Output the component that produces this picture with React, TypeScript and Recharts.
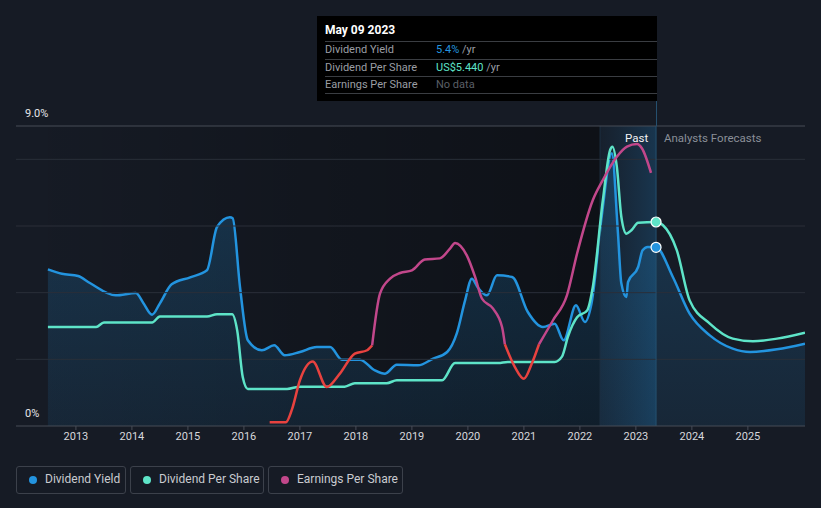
import React from "react"
import {
  ComposedChart,
  Area,
  Line,
  XAxis,
  YAxis,
  ReferenceLine,
  ReferenceArea,
  ReferenceDot,
} from "recharts"

// Dividend Yield (%)
const yieldYears = [
  2012.5, 2012.75, 2013.04, 2013.25, 2013.71, 2014.07, 2014.2, 2014.36, 2014.5, 2014.71,
  2015.04, 2015.34, 2015.52, 2015.75, 2015.8, 2015.93, 2016.07, 2016.32, 2016.54, 2016.73,
  2017.0, 2017.3, 2017.54, 2017.75, 2018.07, 2018.34, 2018.52, 2018.73, 2019.11, 2019.38,
  2019.63, 2019.8, 2019.95, 2020.07, 2020.18, 2020.34, 2020.52, 2020.79, 2021.07, 2021.34,
  2021.55, 2021.71, 2021.93, 2022.09, 2022.21, 2022.39, 2022.57, 2022.68, 2022.74, 2022.83,
  2022.86, 2023.04, 2023.12, 2023.21, 2023.36, 2023.66, 2023.96, 2024.32, 2024.73, 2025.04,
  2025.52, 2026.02,
]
const yieldValues = [
  4.7, 4.57, 4.5, 4.29, 3.92, 3.99, 3.7, 3.34, 3.68, 4.25,
  4.46, 4.67, 5.97, 6.26, 6.23, 4.17, 2.57, 2.27, 2.42, 2.12,
  2.22, 2.37, 2.37, 1.99, 1.99, 1.67, 1.57, 1.84, 1.82, 2.02,
  2.22, 2.77, 3.77, 4.42, 4.15, 3.92, 4.52, 4.47, 3.42, 2.97,
  3.07, 2.57, 3.62, 3.12, 3.7, 6.3, 8.18, 5.78, 4.28, 3.87,
  4.32, 4.77, 5.27, 5.37, 5.36, 4.47, 3.37, 2.72, 2.32, 2.22,
  2.3, 2.47,
]

// Dividend Per Share (US$)
const dpsYears = [
  2012.5, 2013.36, 2013.5, 2014.36, 2014.5, 2015.34, 2015.52, 2015.79, 2015.88, 2015.98,
  2016.07, 2016.77, 2017.0, 2017.8, 2017.98, 2018.55, 2018.73, 2019.54, 2019.77, 2020.54,
  2020.71, 2021.55, 2021.68, 2021.79, 2021.95, 2022.13, 2022.23, 2022.41, 2022.54, 2022.58,
  2022.66, 2022.74, 2022.83, 2022.92, 2023.04, 2023.36, 2023.48, 2023.73, 2023.96, 2024.32,
  2024.73, 2025.09, 2025.52, 2026.02,
]
const dpsValues = [
  2.64, 2.64, 2.76, 2.76, 2.92, 2.92, 2.98, 2.98, 2.55, 1.3,
  0.99, 0.99, 1.05, 1.05, 1.14, 1.14, 1.22, 1.22, 1.68, 1.68,
  1.71, 1.71, 1.85, 2.4, 2.9, 3.08, 3.7, 6.02, 7.36, 7.45,
  6.91, 5.58, 5.13, 5.22, 5.42, 5.44, 5.36, 4.69, 3.35, 2.73,
  2.33, 2.26, 2.33, 2.49,
]

// Earnings Per Share (US$)
const epsYears = [
  2016.46, 2016.75, 2016.86, 2017.0, 2017.23, 2017.48, 2017.71, 2017.98, 2018.2, 2018.29,
  2018.43, 2018.61, 2018.79, 2019.0, 2019.23, 2019.5, 2019.68, 2019.77, 2019.98, 2020.13,
  2020.25, 2020.45, 2020.61, 2020.66, 2020.84, 2021.0, 2021.14, 2021.27, 2021.52, 2021.77,
  2021.95, 2022.23, 2022.41, 2022.66, 2022.84, 2023.02, 2023.11, 2023.27,
]
const epsValues = [
  0.1, 0.1, 0.45, 1.22, 1.72, 1.04, 1.39, 1.93, 2.02, 2.15,
  3.53, 3.93, 4.08, 4.15, 4.44, 4.47, 4.73, 4.88, 4.55, 3.97,
  3.4, 3.13, 2.64, 2.18, 1.57, 1.26, 1.66, 2.18, 2.82, 3.49,
  4.6, 6.02, 6.56, 7.18, 7.45, 7.52, 7.4, 6.75,
]
// index ranges of the EPS line drawn red / pink
const epsSegments = [
  { from: 0, to: 9, neg: true },
  { from: 9, to: 23, neg: false },
  { from: 23, to: 27, neg: true },
  { from: 27, to: 37, neg: false },
]

const yearTicks = [2013, 2014, 2015, 2016, 2017, 2018, 2019, 2020, 2021, 2022, 2023, 2024, 2025]
const pctGrid = [2, 4, 6, 8]

const nowYear = 2023.36
const pastStart = 2022.36
const dataStart = 2012.5

const tooltipRows = [
  { label: "Dividend Yield", value: "5.4%", unit: " /yr", color: "#2394df" },
  { label: "Dividend Per Share", value: "US$5.440", unit: " /yr", color: "#5ee4c8" },
  { label: "Earnings Per Share", value: "No data", unit: "", color: "#5a5f66" },
]

const legendItems = [
  { name: "Dividend Yield", color: "#2394df", left: 16, width: 110 },
  { name: "Dividend Per Share", color: "#5ee4c8", left: 130, width: 134 },
  { name: "Earnings Per Share", color: "#c2478b", left: 268, width: 135 },
]

const yieldData = yieldYears.map((year, i) => ({ year, value: yieldValues[i] }))
const dpsData = dpsYears.map((year, i) => ({ year, value: dpsValues[i] }))
const epsData = epsYears.map((year, i) => ({ year, value: epsValues[i] }))

const BG = "#161b25"
const FONT = "Roboto, 'Noto Sans', sans-serif"

export default function App() {
  return (
    <div
      style={{
        position: "absolute",
        left: 0,
        top: 0,
        width: 821,
        height: 508,
        background: BG,
        fontFamily: FONT,
        overflow: "hidden",
      }}
    >
      <ComposedChart
        width={821}
        height={508}
        margin={{ top: 126, right: 16, bottom: 52, left: 16 }}
      >
        <defs>
          <linearGradient id="pastShade" x1="0" y1="0" x2="1" y2="0">
            <stop offset="0%" stopColor="#000" stopOpacity={0.02} />
            <stop offset="100%" stopColor="#000" stopOpacity={0.38} />
          </linearGradient>
          <linearGradient id="nowShade" x1="0" y1="0" x2="1" y2="0">
            <stop offset="0%" stopColor="#1d5a88" stopOpacity={0.08} />
            <stop offset="100%" stopColor="#1d6aa0" stopOpacity={0.34} />
          </linearGradient>
          <linearGradient id="yieldFill" x1="0" y1="0" x2="0" y2="1">
            <stop offset="0%" stopColor="#2394df" stopOpacity={0.24} />
            <stop offset="100%" stopColor="#2394df" stopOpacity={0.1} />
          </linearGradient>
        </defs>
        <XAxis
          dataKey="year"
          type="number"
          domain={[2011.93, 2026.02]}
          allowDataOverflow
          ticks={yearTicks}
          tickFormatter={(v) => String(v)}
          height={30}
          axisLine={{ stroke: "#474c57" }}
          tickLine={{ stroke: "#474c57" }}
          tickSize={4}
          tick={{ fill: "#d6d8dc", fontSize: 11, fontFamily: FONT }}
        />
        <YAxis yAxisId="pct" hide domain={[0, 9]} allowDataOverflow />
        <YAxis yAxisId="usd" hide domain={[0, 8]} allowDataOverflow />

        <ReferenceArea yAxisId="pct" x1={dataStart} x2={pastStart} y1={0} y2={9} fill="url(#pastShade)" fillOpacity={1} stroke="none" />
        <ReferenceArea yAxisId="pct" x1={pastStart} x2={nowYear} y1={0} y2={9} fill="url(#nowShade)" fillOpacity={1} stroke="none" />
        <ReferenceLine yAxisId="pct" x={pastStart} stroke="#1d2f42" strokeWidth={1} />

        {pctGrid.map((g) => (
          <ReferenceLine key={g} yAxisId="pct" y={g} stroke="#2a2f39" strokeWidth={1} />
        ))}
        <ReferenceLine yAxisId="pct" y={9} stroke="#474c57" strokeWidth={1} />
        <ReferenceLine yAxisId="pct" x={nowYear} stroke="#25506f" strokeWidth={1} />

        <Area
          yAxisId="pct"
          data={yieldData}
          dataKey="value"
          type="monotone"
          stroke="#2394df"
          strokeWidth={2.5}
          fill="url(#yieldFill)"
          fillOpacity={1}
          isAnimationActive={false}
          dot={false}
          activeDot={false}
        />
        <Line
          yAxisId="usd"
          data={dpsData}
          dataKey="value"
          type="monotone"
          stroke="#5ee4c8"
          strokeWidth={2.5}
          dot={false}
          activeDot={false}
          isAnimationActive={false}
        />
        {epsSegments.map((s, i) => (
          <Line
            key={i}
            yAxisId="usd"
            data={epsData.slice(s.from, s.to + 1)}
            dataKey="value"
            type="monotone"
            stroke={s.neg ? "#e8423f" : "#c2478b"}
            strokeWidth={2.5}
            dot={false}
            activeDot={false}
            isAnimationActive={false}
          />
        ))}
        <ReferenceDot yAxisId="usd" x={nowYear} y={5.44} r={5} fill="#5ee4c8" stroke="#ffffff" strokeWidth={1.2} />
        <ReferenceDot yAxisId="pct" x={nowYear} y={5.36} r={5} fill="#2394df" stroke="#ffffff" strokeWidth={1.2} />
      </ComposedChart>

      {/* axis value labels */}
      <div style={{ position: "absolute", left: 25, top: 107, fontSize: 11, color: "#e6e7ea" }}>9.0%</div>
      <div style={{ position: "absolute", left: 25, top: 407, fontSize: 11, color: "#e6e7ea" }}>0%</div>

      {/* past / forecast labels */}
      <div style={{ position: "absolute", left: 625, top: 131, fontSize: 11.5, color: "#f2f3f5" }}>Past</div>
      <div style={{ position: "absolute", left: 664, top: 131, fontSize: 11.5, color: "#8a8f98" }}>Analysts Forecasts</div>

      {/* now line above the plot */}
      <div style={{ position: "absolute", left: 656, top: 100, width: 1, height: 26, background: "#25506f" }} />

      {/* tooltip */}
      <div
        style={{
          position: "absolute",
          left: 317,
          top: 16,
          width: 340,
          height: 85,
          background: "#000",
        }}
      >
        <div style={{ position: "absolute", left: 8, top: 7, fontSize: 12, fontWeight: 700, color: "#ffffff" }}>
          May 09 2023
        </div>
        {tooltipRows.map((r, i) => (
          <div
            key={r.label}
            style={{
              position: "absolute",
              left: 8,
              right: 0,
              top: 25 + i * 17.5,
              height: 17,
              borderTop: "1px solid #3a3d42",
              fontSize: 11,
              lineHeight: "15px",
            }}
          >
            <span style={{ position: "absolute", left: 0, color: "#9b9ea4" }}>{r.label}</span>
            <span style={{ position: "absolute", left: 111 }}>
              <span style={{ color: r.color }}>{r.value}</span>
              <span style={{ color: "#9b9ea4" }}>{r.unit}</span>
            </span>
          </div>
        ))}
        <div style={{ position: "absolute", left: 8, right: 0, top: 77, borderTop: "1px solid #3a3d42" }} />
      </div>

      {/* legend */}
      {legendItems.map((l) => (
        <div
          key={l.name}
          style={{
            position: "absolute",
            left: l.left,
            top: 466,
            width: l.width - 2,
            height: 26,
            border: "1px solid #3c414b",
            borderRadius: 3,
          }}
        >
          <span
            style={{
              position: "absolute",
              left: 12,
              top: 9,
              width: 8,
              height: 8,
              borderRadius: 4,
              background: l.color,
            }}
          />
          <span style={{ position: "absolute", left: 28, top: 5, fontSize: 12, color: "#c9cbd0" }}>{l.name}</span>
        </div>
      ))}
    </div>
  )
}
